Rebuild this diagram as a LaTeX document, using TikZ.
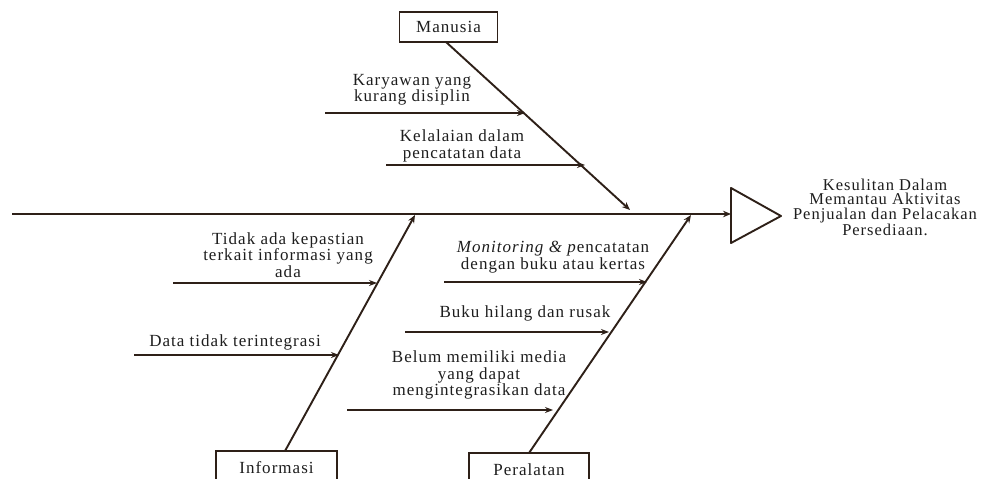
\documentclass[tikz,border=0pt]{standalone}
\usepackage{fontspec}
\setmainfont{Liberation Serif}[LetterSpace=6]
\usetikzlibrary{arrows.meta,calc}
\definecolor{bone}{HTML}{2E2018}
\definecolor{txt}{HTML}{1E1E1E}
\begin{document}
\begin{tikzpicture}[x=1pt,y=-1pt,
  catbox/.style={draw=bone, line width=1.2pt, inner sep=0pt, text=txt, font=\fontsize{17}{17}\selectfont},
  bonearrow/.style={draw=bone, line width=1.9pt, -{Stealth[length=8pt,width=6.5pt]}},
  subarrow/.style={draw=bone, line width=1.9pt, -{Stealth[length=8pt,width=6pt]}},
  lbl/.style={align=center, inner sep=0pt, text=txt, font=\fontsize{17}{16.5}\selectfont},
  tightlbl/.style={align=center, inner sep=0pt, text=txt, font=\fontsize{16.5}{14.6}\selectfont}]
\clip (0,0) rectangle (989,479);
\fill[white] (0,0) rectangle (989,479);

% category boxes
\node[catbox, minimum width=98pt, minimum height=30pt] (man) at (448.5,27) {Manusia};
\node[catbox, minimum width=121pt, minimum height=34pt] (inf) at (276.5,468) {Informasi};
\node[catbox, minimum width=120pt, minimum height=34pt] (per) at (529,470) {Peralatan};

% head
\coordinate (h1) at (731,188);
\coordinate (h2) at (781,216);
\coordinate (h3) at (731,243);
\coordinate (hW) at (731,214);
\coordinate (tail) at (12,214);
\draw[draw=bone, line width=1.9pt, line join=round] (h1) -- (h2) -- (h3) -- cycle;
\draw[bonearrow] (tail) -- (hW);
\node[tightlbl] (effect) at (885,207) {Kesulitan Dalam\\Memantau Aktivitas\\Penjualan dan Pelacakan\\Persediaan.};

% bones
\coordinate (mS) at (446,42);
\coordinate (mE) at (630,210);
\coordinate (iS) at (285,451);
\coordinate (iE) at (415,215);
\coordinate (pS) at (529,453);
\coordinate (pE) at (691,215);
\draw[bonearrow] (mS) -- (mE);
\draw[bonearrow] (iS) -- (iE);
\draw[bonearrow] (pS) -- (pE);

% Manusia causes
\coordinate (m1s) at (325,113);
\coordinate (m1e) at (525,113);
\coordinate (m2s) at (386,165);
\coordinate (m2e) at (585,165);
\draw[subarrow] (m1s) -- (m1e);
\draw[subarrow] (m2s) -- (m2e);
\node[lbl] (c1) at (412,90) {Karyawan yang\\kurang disiplin};
\node[lbl] (c2) at (462,146) {Kelalaian dalam\\pencatatan data};

% Informasi causes
\coordinate (i1s) at (173,283);
\coordinate (i1e) at (377,283);
\coordinate (i2s) at (134,355);
\coordinate (i2e) at (339,355);
\draw[subarrow] (i1s) -- (i1e);
\draw[subarrow] (i2s) -- (i2e);
\node[lbl, font=\fontsize{17}{15.2}\selectfont] (c3) at (288,255) {Tidak ada kepastian\\terkait informasi yang\\ada};
\node[lbl] (c4) at (235,342) {Data tidak terintegrasi};

% Peralatan causes
\coordinate (p1s) at (444,282);
\coordinate (p1e) at (647,282);
\coordinate (p2s) at (405,332);
\coordinate (p2e) at (609,332);
\coordinate (p3s) at (347,410);
\coordinate (p3e) at (553,410);
\draw[subarrow] (p1s) -- (p1e);
\draw[subarrow] (p2s) -- (p2e);
\draw[subarrow] (p3s) -- (p3e);
\node[lbl] (c5) at (553,257) {\textit{Monitoring \& p}encatatan\\dengan buku atau kertas};
\node[lbl] (c6) at (525,313) {Buku hilang dan rusak};
\node[lbl] (c7) at (479,375) {Belum memiliki media\\yang dapat\\mengintegrasikan data};
\end{tikzpicture}
\end{document}
